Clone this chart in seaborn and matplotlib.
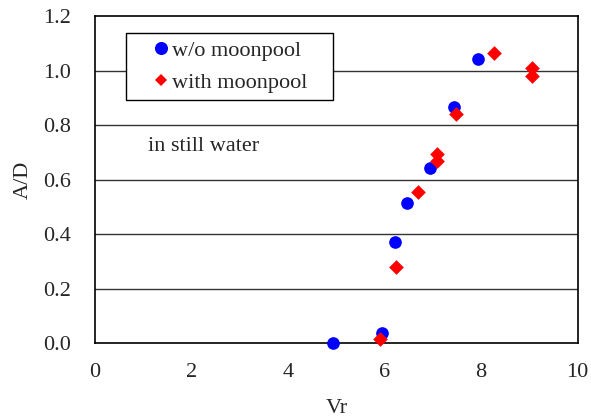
import numpy as np
import pandas as pd
import matplotlib
matplotlib.use("Agg")
import matplotlib.pyplot as plt
from matplotlib.lines import Line2D
import seaborn as sns

# Response amplitude vs reduced velocity
vr_without = [4.94, 5.94, 6.22, 6.46, 6.93, 7.44, 7.93]
ad_without = [0.002, 0.037, 0.372, 0.513, 0.642, 0.865, 1.041]

vr_with = [5.90, 6.23, 6.70, 7.08, 7.09, 7.48, 8.27, 9.06, 9.06]
ad_with = [0.015, 0.279, 0.556, 0.670, 0.694, 0.840, 1.066, 1.008, 0.981]

series_names = ["w/o moonpool", "with moonpool"]
x_ticks = [0, 2, 4, 6, 8, 10]
y_ticks = [0.0, 0.2, 0.4, 0.6, 0.8, 1.0, 1.2]

BLUE = "#0000ff"
RED = "#ff0000"
FS = 16

df_without = pd.DataFrame({"Vr": vr_without, "A/D": ad_without})
df_with = pd.DataFrame({"Vr": vr_with, "A/D": ad_with})

sns.set_theme(style="white")
plt.rcParams["font.family"] = ["Liberation Serif", "DejaVu Serif"]

fig = plt.figure(figsize=(5.91, 4.18), dpi=100)
ax = fig.add_axes([95 / 591, 1 - 343.3 / 418, (577.7 - 95) / 591, (343.3 - 16) / 418])

for y in y_ticks[1:-1]:
    ax.axhline(y, color="#333333", lw=1.0, zorder=0)

sns.scatterplot(data=df_without, x="Vr", y="A/D", color=BLUE, marker="o",
                s=83, linewidth=0, ax=ax, clip_on=False, zorder=3, legend=False)
sns.scatterplot(data=df_with, x="Vr", y="A/D", color=RED, marker="D",
                s=56, linewidth=0, ax=ax, clip_on=False, zorder=4, legend=False)

ax.set_xlim(0, 10)
ax.set_ylim(0, 1.2)
ax.set_xticks(x_ticks)
ax.set_yticks(y_ticks)
ax.set_xticklabels([str(t) for t in x_ticks])
ax.set_yticklabels([f"{t:.1f}" for t in y_ticks])
ax.tick_params(axis="x", direction="in", length=7, width=1, color="black",
               labelsize=FS, pad=14.5)
ax.tick_params(axis="y", length=0, labelsize=FS, pad=17)
for sp in ax.spines.values():
    sp.set_color("black")
    sp.set_linewidth(1.2)

ax.set_xlabel("Vr", fontsize=FS, labelpad=12)
ax.set_ylabel("A/D", fontsize=FS, labelpad=8)

ax.text(1.1, 0.72, "in still water", fontsize=FS, va="center", ha="left")

handles = [
    Line2D([], [], linestyle="none", marker="o", markersize=9.4,
           markerfacecolor=BLUE, markeredgewidth=0),
    Line2D([], [], linestyle="none", marker="D", markersize=6.3,
           markerfacecolor=RED, markeredgewidth=0),
]
# frame spans a fixed box; expand mode keeps the labels left-aligned inside it
bx0 = (126 - 95) / 482.7
bw = (332.7 - 126) / 482.7
btop = (343.3 - 33.3) / 327.3
leg = ax.legend(handles, series_names, loc="upper left",
                bbox_to_anchor=(bx0, btop - 0.3, bw, 0.3), mode="expand",
                borderaxespad=0, fontsize=FS, frameon=True, fancybox=False,
                framealpha=1, edgecolor="black", handletextpad=-0.79,
                handlelength=2.55, borderpad=0.32, labelspacing=0.5)
leg.get_frame().set_linewidth(1.0)

fig.savefig("out.png", dpi=100)
